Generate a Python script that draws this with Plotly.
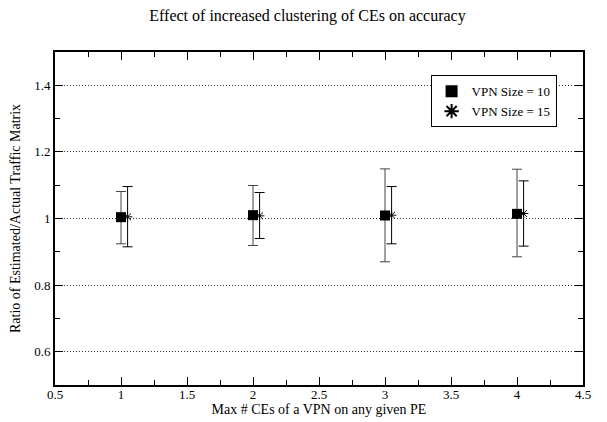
import plotly.graph_objects as go

# max # CEs of a VPN on any given PE
x_size10 = [1, 2, 3, 4]
y_size10 = [1.004, 1.010, 1.009, 1.014]
hi_size10 = [1.081, 1.099, 1.149, 1.148]
lo_size10 = [0.924, 0.919, 0.870, 0.885]

x_size15 = [1.05, 2.05, 3.05, 4.05]
y_size15 = [1.005, 1.008, 1.010, 1.015]
hi_size15 = [1.096, 1.078, 1.096, 1.113]
lo_size15 = [0.915, 0.940, 0.924, 0.917]

FONT = "'Liberation Serif', 'Times New Roman', serif"

# the page body keeps its default 8px margin, so the figure is drawn 8px smaller
W, H = 599, 414


def err(y, hi, lo, color):
    return dict(
        type="data",
        symmetric=False,
        array=[h - v for h, v in zip(hi, y)],
        arrayminus=[v - l for v, l in zip(y, lo)],
        color=color,
        thickness=1,
        width=5,
    )


fig = go.Figure()
fig.add_trace(go.Scatter(
    x=x_size10, y=y_size10, mode="markers", name="VPN Size = 10",
    marker=dict(symbol="square", size=10, color="black"),
    error_y=err(y_size10, hi_size10, lo_size10, "#444444"),
))
fig.add_trace(go.Scatter(
    x=x_size15, y=y_size15, mode="markers", name="VPN Size = 15",
    marker=dict(symbol="asterisk-open", size=8, color="black", line=dict(width=1, color="black")),
    error_y=err(y_size15, hi_size15, lo_size15, "black"),
))

axis_common = dict(
    showline=True, linecolor="black", linewidth=2, mirror="ticks",
    ticks="inside", ticklen=8, tickcolor="black", tickwidth=1,
    zeroline=False, automargin=False,
    tickfont=dict(family=FONT, size=13, color="black"),
)

fig.update_xaxes(
    range=[0.5, 4.5], dtick=0.5, tick0=0.5, showgrid=False, ticklabelstandoff=-4,
    minor=dict(dtick=0.25, tick0=0.5, ticks="inside", ticklen=5, tickcolor="black", showgrid=False),
    title=dict(text="Max # CEs of a VPN on any given PE", font=dict(family=FONT, size=14, color="black"), standoff=1),
    **axis_common,
)
fig.update_yaxes(
    range=[0.5, 1.5], dtick=0.2, tick0=0.6, showgrid=True,
    gridcolor="#333333", griddash="1px,2px", gridwidth=1,
    minor=dict(dtick=0.1, tick0=0.5, ticks="inside", ticklen=5, tickcolor="black", showgrid=False),
    title=dict(text="Ratio of Estimated/Actual Traffic Matrix", font=dict(family=FONT, size=14, color="black"), standoff=10),
    **axis_common,
)

fig.update_layout(
    width=W, height=H,
    margin=dict(l=47, r=24, t=44, b=37),
    plot_bgcolor="white", paper_bgcolor="white",
    font=dict(family=FONT, color="black"),
    title=dict(text="Effect of increased clustering of CEs on accuracy", x=0.5, xanchor="center",
               y=1 - 7 / H, yanchor="middle", font=dict(family=FONT, size=16, color="black")),
    showlegend=True,
    legend=dict(x=0.95, y=0.93, xanchor="right", yanchor="top", bgcolor="white",
                bordercolor="black", borderwidth=1, font=dict(family=FONT, size=13, color="black"),
                tracegroupgap=0, itemsizing="constant"),
)

fig.write_html("out.html")
